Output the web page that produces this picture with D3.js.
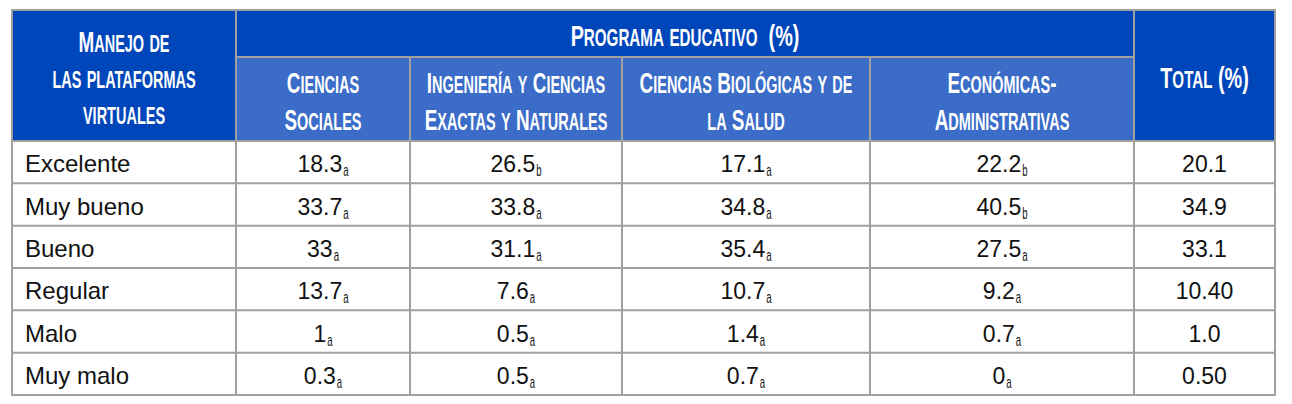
<!DOCTYPE html>
<html lang="es">
<head>
<meta charset="UTF-8">
<title>Manejo de las plataformas virtuales</title>
<script src="https://d3js.org/d3.v7.min.js"></script>
<style>
  html, body { margin: 0; padding: 0; background: #fff; }
  .tabla text { font-family: "Liberation Sans", Arial, sans-serif; fill: #111; }
  .tabla .head { font-weight: bold; fill: #fff; white-space: pre; }
</style>
</head>
<body>
<div class="tabla"></div>
<script>
// datos de la tabla
const rowLabels = ["Excelente", "Muy bueno", "Bueno", "Regular", "Malo", "Muy malo"]
const firstHeader = ["Manejo de", "las plataformas", "virtuales"]
const groupHeader = "Programa educativo  (%)"
const programs = [
  ["Ciencias", "Sociales"],
  ["Ingeniería y Ciencias", "Exactas y Naturales"],
  ["Ciencias Biológicas y de", "la Salud"],
  ["Económicas-", "Administrativas"]
]
const totalHeader = "Total (%)"

const cienciasSociales = ["18.3", "33.7", "33", "13.7", "1", "0.3"]
const ingenieria       = ["26.5", "33.8", "31.1", "7.6", "0.5", "0.5"]
const biologicas       = ["17.1", "34.8", "35.4", "10.7", "1.4", "0.7"]
const economicas       = ["22.2", "40.5", "27.5", "9.2", "0.7", "0"]
const totales          = ["20.1", "34.9", "33.1", "10.40", "1.0", "0.50"]

const subSociales    = ["a", "a", "a", "a", "a", "a"]
const subIngenieria  = ["b", "a", "a", "a", "a", "a"]
const subBiologicas  = ["a", "a", "a", "a", "a", "a"]
const subEconomicas  = ["b", "b", "a", "a", "a", "a"]

const columns = [
  { values: cienciasSociales, subs: subSociales },
  { values: ingenieria, subs: subIngenieria },
  { values: biologicas, subs: subBiologicas },
  { values: economicas, subs: subEconomicas },
  { values: totales, subs: null }
]

// layout
const W = 1292, H = 404
const tLeft = 12, tRight = 1275, tTop = 10, tBottom = 395
const headMid = 57, headBottom = 141
const colEdges = [tLeft, 236, 410, 622, 870, 1134, tRight]
const darkBlue = '#0046bb', lightBlue = '#3a6cc8', gridGray = '#a0a0a0'

const svg = d3.select('.tabla').append('svg')
  .attr('width', W).attr('height', H)

// escalas
const yRow = d3.scaleBand().domain(d3.range(rowLabels.length)).range([headBottom, tBottom])
const xCol = d3.scaleOrdinal().domain(d3.range(colEdges.length)).range(colEdges)
const colCenter = i => (xCol(i) + xCol(i + 1)) / 2
const rowBase = i => yRow(i) + yRow.bandwidth() / 2 + 9

// fondos de la cabecera
svg.append('rect').attr('x', tLeft).attr('y', tTop)
  .attr('width', tRight - tLeft).attr('height', headBottom - tTop).attr('fill', darkBlue)
svg.append('rect').attr('x', xCol(1)).attr('y', headMid)
  .attr('width', xCol(5) - xCol(1)).attr('height', headBottom - headMid).attr('fill', lightBlue)

// texto en versalitas (condensado)
function smallCaps(g, str, cx, cy, sx = 0.63) {
  const t = g.append('text').attr('class', 'head')
    .attr('text-anchor', 'middle')
    .attr('transform', `translate(${cx},${cy}) scale(${sx},1)`)
  let parts = []
  for (const ch of str) {
    const isLow = ch !== ch.toUpperCase()
    const last = parts[parts.length - 1]
    if (last && last.low === isLow) last.s += ch
    else parts.push({ s: ch, low: isLow })
  }
  t.selectAll('tspan').data(parts).enter().append('tspan')
    .attr('font-size', d => d.low ? 23 : 30)
    .text(d => d.low ? d.s.toUpperCase() : d.s)
}

const head = svg.append('g')
firstHeader.forEach((s, i) => smallCaps(head, s, colCenter(0), 52 + i * 36))
smallCaps(head, groupHeader, (xCol(1) + xCol(5)) / 2, 46, 0.66)
programs.forEach((lines, c) => {
  lines.forEach((s, i) => smallCaps(head, s, colCenter(c + 1), 93 + i * 37))
})
smallCaps(head, totalHeader, colCenter(5), 88, 0.66)

// cuerpo
const body = svg.append('g')
body.selectAll('.label').data(rowLabels).enter().append('text')
  .attr('x', tLeft + 13)
  .attr('y', (d, i) => rowBase(i) + 1)
  .attr('font-size', 24)
  .text(d => d)

columns.forEach((col, c) => {
  col.values.forEach((v, i) => {
    const cell = body.append('g')
    const num = cell.append('text').attr('font-size', 23).attr('y', rowBase(i) + 1).text(v)
    const numW = num.node().getComputedTextLength()
    let subW = 0
    if (col.subs) {
      const sub = cell.append('text').attr('font-size', 16)
        .attr('transform', `translate(${numW + 1},${rowBase(i) + 5}) scale(0.6,1)`)
        .text(col.subs[i])
      subW = sub.node().getComputedTextLength() * 0.6 + 1
    }
    cell.attr('transform', `translate(${colCenter(c + 1) - (numW + subW) / 2},0)`)
  })
})

// rejilla
const grid = svg.append('g').attr('stroke', gridGray).attr('stroke-width', 2).attr('fill', 'none')
yRow.domain().slice(1).forEach(i => {
  grid.append('line').attr('x1', tLeft).attr('x2', tRight).attr('y1', yRow(i)).attr('y2', yRow(i))
})
grid.append('line').attr('x1', tLeft).attr('x2', tRight).attr('y1', headBottom).attr('y2', headBottom)
grid.append('line').attr('x1', xCol(1)).attr('x2', xCol(5)).attr('y1', headMid).attr('y2', headMid)
d3.range(1, colEdges.length - 1).forEach(i => {
  const y0 = (i === 2 || i === 3 || i === 4) ? headMid : tTop
  grid.append('line').attr('x1', xCol(i)).attr('x2', xCol(i)).attr('y1', y0).attr('y2', tBottom)
})
grid.append('rect').attr('x', tLeft).attr('y', tTop)
  .attr('width', tRight - tLeft).attr('height', tBottom - tTop)
</script>
</body>
</html>
